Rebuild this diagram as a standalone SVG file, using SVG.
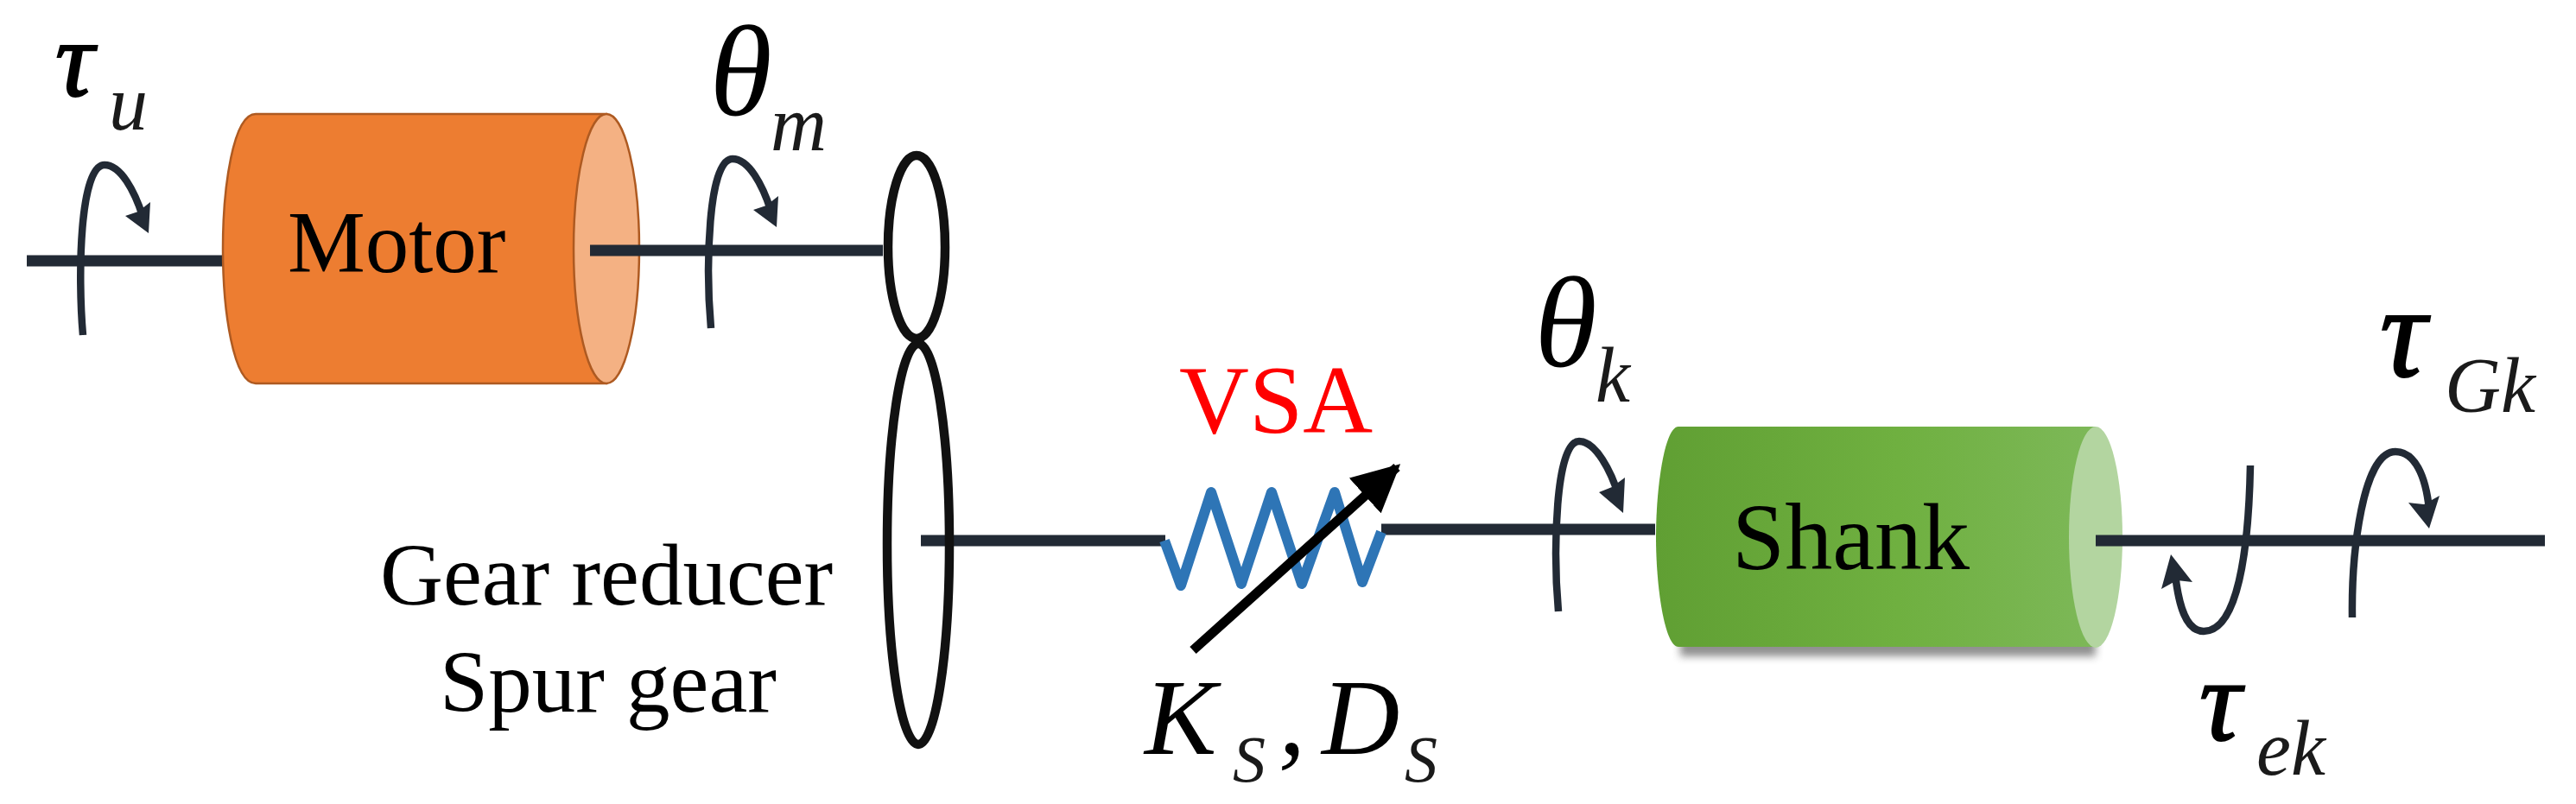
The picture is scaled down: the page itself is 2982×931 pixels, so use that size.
<svg xmlns="http://www.w3.org/2000/svg" width="2982" height="931" viewBox="0 0 2982 931">
<style>
text{font-family:"Liberation Serif","Times New Roman",serif;fill:#000}
.lab{font-size:101px}
.i{font-style:italic}
.tau{font-size:125px;font-style:italic;stroke:#000;stroke-width:2}
.theta{font-size:150px}
.sub{font-size:90px;font-style:italic;fill:#1a1a1a}
.shaft{fill:none;stroke:#222a35;stroke-width:13}
.rot{fill:none;stroke:#222a35;stroke-width:8.5}
.head{fill:#222a35}
.gear{fill:none;stroke:#111;stroke-width:10.5}
</style>
<defs>
<linearGradient id="shankFill" x1="0" x2="1" y1="0" y2="0">
<stop offset="0" stop-color="#609f33"/><stop offset="0.55" stop-color="#6fb040"/><stop offset="1" stop-color="#7db858"/>
</linearGradient>
<filter id="soft" x="-5%" y="-10%" width="110%" height="125%"><feGaussianBlur stdDeviation="5"/></filter>
<marker id="blackHead" viewBox="0 0 10 10" refX="9" refY="5" markerWidth="5" markerHeight="5" orient="auto"><path d="M0 0L10 5L0 10z" fill="#000"/></marker>
</defs>
<rect width="2982" height="931" fill="#fff"/>

<g id="connectors">
<path class="shaft" d="M31 302H258"/>
<path class="shaft" d="M1349 626H1066"/>
<path class="shaft" d="M1599 613H1916"/>
</g>

<g id="motor">
<path d="M296 132H702V444H296C270 444 258 360 258 288C258 216 270 132 296 132Z" fill="#ed7d31" stroke="#ae5a21" stroke-width="2.5"/>
<ellipse cx="702" cy="288" rx="38" ry="156" fill="#f4b183" stroke="#ae5a21" stroke-width="2.5"/>
<text class="lab" x="333" y="315">Motor</text>
</g>

<g id="gear-upper"><ellipse class="gear" cx="1061" cy="286" rx="33" ry="106"/></g>
<g id="gear-lower">
<ellipse class="gear" cx="1063" cy="630" rx="36" ry="232"/>
<text class="lab" x="440" y="700">Gear reducer</text>
<text class="lab" x="509" y="824">Spur gear</text>
</g>

<g id="shank">
<path d="M1945 508H2426V760H1945Z" fill="#555" opacity="0.65" filter="url(#soft)"/>
<path d="M1943 494H2426V749H1943C1927 749 1917 680 1917 622C1917 564 1927 494 1943 494Z" fill="url(#shankFill)"/>
<ellipse cx="2426" cy="622" rx="31" ry="128" fill="#b3d5a0"/>
<text x="2005" y="659" style="font-size:110px">Shank</text>
</g>

<g id="shafts-front">
<path class="shaft" d="M683 290H1022"/>
<path class="shaft" d="M2426 626H2946"/>
</g>

<g id="spring">
<polyline points="1348,626 1367,678 1402,570 1437,676 1472,570 1507,676 1545,570 1577,674 1599,616" fill="none" stroke="#2e75b6" stroke-width="12" stroke-linejoin="round"/>
<path d="M1381 753L1617 541" fill="none" stroke="#000" stroke-width="11" marker-end="url(#blackHead)"/>
<text x="1365" y="501" style="font-size:112px;fill:#f00">VSA</text>
<text class="i" x="1325" y="873" style="font-size:125px">K</text>
<text class="sub" x="1427" y="905" style="font-size:76px">S</text>
<text class="i" x="1480" y="873" style="font-size:125px">,</text>
<text class="i" x="1530" y="873" style="font-size:125px">D</text>
<text class="sub" x="1626" y="905" style="font-size:76px">S</text>
</g>

<g id="rotation-tau-u">
<path class="rot" d="M96 388C90 320 92 191 121 191C140 191 156 222 165 250"/>
<path class="head" d="M172 270L145 250L160 245L174 234Z"/>
<text class="tau" x="64" y="111">τ</text>
<text class="sub" x="126" y="150">u</text>
</g>
<g id="rotation-theta-m">
<path class="rot" d="M823 380C817 312 819 184 848 184C867 184 883 215 892 243"/>
<path class="head" d="M899 263L872 243L887 238L901 227Z"/>
<text class="theta" transform="translate(816 133) skewX(-8)" x="0" y="0">θ</text>
<text class="sub" x="892" y="174">m</text>
</g>
<g id="rotation-theta-k">
<path class="rot" d="M1804 708C1798 640 1800 511 1828 511C1847 511 1865 545 1874 575"/>
<path class="head" d="M1879 594L1851 570L1866 564L1881 553Z"/>
<text class="theta" transform="translate(1771 424) skewX(-8)" x="0" y="0">θ</text>
<text class="sub" x="1847" y="465">k</text>
</g>
<g id="rotation-tau-ek">
<path class="rot" d="M2605 539C2603 640 2590 731 2551 731C2530 731 2522 700 2518 665"/>
<path class="head" d="M2513 642L2502 682L2520 672L2538 674Z"/>
<text class="tau" x="2546" y="857" style="font-size:135px">τ</text>
<text class="sub" x="2612" y="897">ek</text>
</g>
<g id="rotation-tau-gk">
<path class="rot" d="M2723 715C2722 640 2735 523 2773 523C2795 523 2808 550 2812 590"/>
<path class="head" d="M2812 612L2788 582L2806 584L2824 574Z"/>
<text class="tau" x="2755" y="436" style="font-size:150px">τ</text>
<text class="sub" x="2830" y="477">Gk</text>
</g>
</svg>
